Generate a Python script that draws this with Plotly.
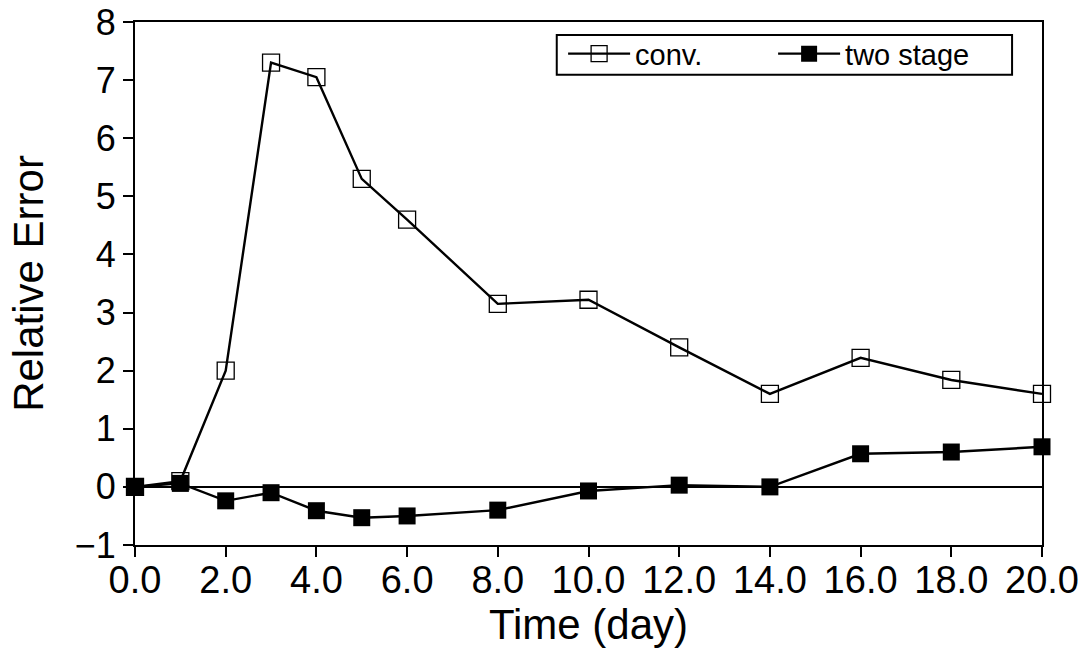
import plotly.graph_objects as go

# Time axis (days) shared by both series
days = [0, 1, 2, 3, 4, 5, 6, 8, 10, 12, 14, 16, 18, 20]

# Relative error of the conventional scheme
conv_err = [0.0, 0.1, 2.0, 7.3, 7.05, 5.3, 4.6, 3.15, 3.22, 2.4, 1.6, 2.22, 1.84, 1.6]

# Relative error of the two-stage scheme
two_stage_err = [0.0, 0.06, -0.24, -0.1, -0.41, -0.53, -0.5, -0.4, -0.07, 0.03, 0.0, 0.57, 0.6, 0.69]

x_ticks = [0, 2, 4, 6, 8, 10, 12, 14, 16, 18, 20]
y_ticks = [-1, 0, 1, 2, 3, 4, 5, 6, 7, 8]

FONT = "Liberation Sans, Arial, Helvetica, sans-serif"

fig = go.Figure()

fig.add_trace(go.Scatter(
    x=days, y=conv_err, name="conv.",
    mode="lines+markers",
    line=dict(color="black", width=2.4),
    marker=dict(symbol="square-open", size=17, color="black",
                line=dict(color="black", width=1.3)),
    cliponaxis=False,
))

fig.add_trace(go.Scatter(
    x=days, y=two_stage_err, name="two stage",
    mode="lines+markers",
    line=dict(color="black", width=2.4),
    marker=dict(symbol="square", size=17, color="black",
                line=dict(color="black", width=0)),
    cliponaxis=False,
))

# Framed legend box (drawn as a shape so its height can follow the text)
fig.add_shape(
    type="rect", xref="paper", yref="paper",
    x0=0.465, x1=0.967, y0=0.899, y1=0.975,
    line=dict(color="black", width=2), fillcolor="rgba(0,0,0,0)",
    layer="above",
)

fig.update_layout(
    width=1091, height=656,
    margin=dict(l=135, r=49, t=22, b=111),
    paper_bgcolor="white", plot_bgcolor="white",
    font=dict(family=FONT, color="black"),
    showlegend=True,
    legend=dict(
        orientation="h",
        x=0.472, y=0.988, xanchor="left", yanchor="top",
        borderwidth=0,
        bgcolor="rgba(0,0,0,0)",
        font=dict(size=29, family=FONT, color="black"),
        itemwidth=62,
        tracegroupgap=0,
        entrywidth=133,
    ),
    xaxis=dict(
        range=[0, 20], tickvals=x_ticks, tickformat=".1f",
        automargin=False,
        showline=True, linecolor="black", linewidth=2, mirror=True,
        ticks="outside", ticklen=10, tickwidth=2, tickcolor="black",
        ticklabelstandoff=-10,
        showgrid=False, zeroline=False,
        tickfont=dict(size=38, family=FONT, color="black"),
        title=dict(text="Time (day)", font=dict(size=42, family=FONT, color="black"),
                   standoff=0),
    ),
    yaxis=dict(
        range=[-1, 8], tickvals=y_ticks,
        automargin=False,
        showline=True, linecolor="black", linewidth=2, mirror=True,
        ticks="outside", ticklen=10, tickwidth=2, tickcolor="black",
        showgrid=False,
        zeroline=True, zerolinecolor="black", zerolinewidth=1.5,
        tickfont=dict(size=36, family=FONT, color="black"),
        title=dict(text="Relative Error", font=dict(size=42, family=FONT, color="black"),
                   standoff=18),
    ),
)

fig.write_html("out.html")
